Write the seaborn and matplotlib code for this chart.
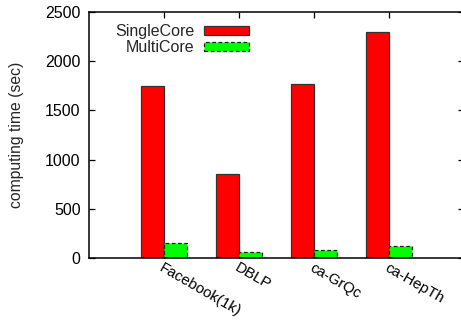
import pandas as pd
import matplotlib
matplotlib.use('Agg')
import matplotlib.pyplot as plt
import matplotlib.transforms as mtransforms
from matplotlib.patches import Patch
import seaborn as sns

# data
datasets = ['Facebook(1k)', 'DBLP', 'ca-GrQc', 'ca-HepTh']
single_core = [1750, 850, 1770, 2300]
multi_core = [150, 60, 85, 125]
series = ['SingleCore', 'MultiCore']
colors = ['#ff0000', '#00ff00']
y_ticks = [0, 500, 1000, 1500, 2000, 2500]

df = pd.DataFrame({
    'dataset': datasets * 2,
    'time': single_core + multi_core,
    'mode': [series[0]] * len(datasets) + [series[1]] * len(datasets),
})

sns.set_style('ticks')
plt.rcParams['font.family'] = ['Liberation Sans', 'DejaVu Sans']

fig = plt.figure(figsize=(4.61, 3.2), dpi=100)
ax = fig.add_axes([89 / 461, 62 / 320, 375 / 461, 246 / 320])

sns.barplot(data=df, x='dataset', y='time', hue='mode', order=datasets,
            hue_order=series, palette=colors, width=0.62, gap=0,
            saturation=1, legend=False, ax=ax)

# bar outlines: solid for single core, dashed for multi core
for patch in ax.containers[0]:
    patch.set_edgecolor('#333333')
    patch.set_linewidth(0.9)
for patch in ax.containers[1]:
    patch.set_edgecolor('#222222')
    patch.set_linewidth(0.9)
    patch.set_linestyle((0, (3, 2)))

ax.set_xlim(-1, 4)
ax.set_ylim(0, 2500)
ax.set_yticks(y_ticks)
ax.set_xlabel('')
ax.set_ylabel('computing time (sec)', fontsize=11.3, labelpad=15)

ax.set_xticks(range(len(datasets)))
ax.set_xticklabels(datasets, rotation=-30, ha='left', va='top',
                   rotation_mode='anchor', fontsize=10.8)
# nudge rotated labels a little to the right, like the original
shift = mtransforms.ScaledTranslation(4 / 100, 0, fig.dpi_scale_trans)
for lbl in ax.get_xticklabels():
    lbl.set_transform(lbl.get_transform() + shift)
ax.tick_params(axis='y', labelsize=11.5, pad=6)
ax.tick_params(axis='x', pad=2)
ax.tick_params(direction='in', top=True, right=True, length=4, width=0.9,
               colors='black')

for side in ['left', 'bottom', 'top', 'right']:
    ax.spines[side].set_visible(True)
    ax.spines[side].set_color('black')
    ax.spines[side].set_linewidth(1.1)

handles = [
    Patch(facecolor=colors[0], edgecolor='#333333', linewidth=0.9),
    Patch(facecolor=colors[1], edgecolor='#222222', linewidth=0.9,
          linestyle=(0, (3, 2))),
]
ax.legend(handles, series, loc='upper right', bbox_to_anchor=(0.452, 0.99),
          frameon=False, markerfirst=False, fontsize=11.5,
          handlelength=2.8, handleheight=0.5, handletextpad=0.6,
          labelspacing=0.05, borderaxespad=0.2)

fig.savefig('out.png', dpi=100)
